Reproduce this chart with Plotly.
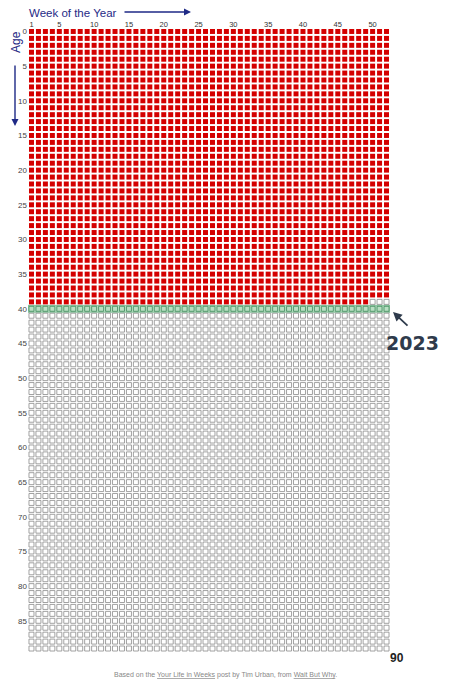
import plotly.graph_objects as go

weeks = list(range(1, 53))
ages = list(range(0, 90))
full_years_lived = 39          # ages 0..38 fully lived
partial_age = 39
partial_weeks_lived = 49       # weeks lived in age 39
current_age_row = 40           # highlighted 2023 row
x_ticks = [1, 5, 10, 15, 20, 25, 30, 35, 40, 45, 50]
y_ticks = [0, 5, 10, 15, 20, 25, 30, 35, 40, 45, 50, 55, 60, 65, 70, 75, 80, 85]

rx, ry, ex, ey, gx, gy = [], [], [], [], [], []
for a in ages:
    for w in weeks:
        if a < full_years_lived or (a == partial_age and w <= partial_weeks_lived):
            rx.append(w); ry.append(a)
        elif a == current_age_row:
            gx.append(w); gy.append(a)
        else:
            ex.append(w); ey.append(a)

fig = go.Figure()
fig.add_shape(type="rect", x0=0.5, x1=52.5, y0=current_age_row - 0.5, y1=current_age_row + 0.5,
              fillcolor="#b9dfc3", line=dict(color="#6fb386", width=0.8), layer="below")
fig.add_trace(go.Scatter(x=rx, y=ry, mode="markers",
                         marker=dict(symbol="square", size=5, color="#d40000",
                                     line=dict(color="#d40000", width=0))))
fig.add_trace(go.Scatter(x=ex, y=ey, mode="markers",
                         marker=dict(symbol="square-open", size=5, color="#8a8a8a",
                                     line=dict(width=0.8))))
fig.add_trace(go.Scatter(x=gx, y=gy, mode="markers",
                         marker=dict(symbol="square-open", size=5, color="#3d8a5a",
                                     line=dict(width=0.8))))

OFF = 8  # page body margin
FW, FH = 442, 675
W0, W1, H0, H1 = 28 - OFF, 390 - OFF, 28 - OFF, 652 - OFF
def px(x): return (x - OFF - W0) / (W1 - W0)
def py(y): return (H1 - (y - OFF)) / (H1 - H0)

navy = "#1f2a86"
slate = "#2f3b4c"
P = dict(xref="paper", yref="paper")
ann = [
    dict(x=px(27), y=py(13), text="Week of the Year", showarrow=False, xanchor="left",
         yanchor="middle", font=dict(size=11.5, color=navy), **P),
    dict(x=px(191), y=py(12), ax=-68, ay=0, text="", showarrow=True, arrowhead=2,
         arrowsize=1, arrowwidth=1.4, arrowcolor=navy, **P),
    dict(x=px(16), y=py(42), text="Age", showarrow=False, textangle=-90,
         xanchor="center", yanchor="middle", font=dict(size=12, color=navy), **P),
    dict(x=px(15), y=py(126), ax=0, ay=-62, text="", showarrow=True, arrowhead=2,
         arrowsize=1, arrowwidth=1.4, arrowcolor=navy, **P),
    dict(x=px(413), y=py(343), text="<b>2023</b>", showarrow=False,
         xanchor="center", yanchor="middle",
         font=dict(size=19, color=slate, family="DejaVu Sans"), **P),
    dict(x=px(393), y=py(312), ax=16, ay=15, text="", showarrow=True, arrowhead=2,
         arrowsize=1, arrowwidth=1.8, arrowcolor=slate, **P),
    dict(x=px(397), y=py(658), text="<b>90</b>", showarrow=False,
         xanchor="center", yanchor="middle", font=dict(size=12, color="#222"), **P),
    dict(x=px(225), y=py(675),
         text="Based on the <u>Your Life in Weeks</u> post by Tim Urban, from <u>Wait But Why</u>.",
         showarrow=False, xanchor="center", yanchor="middle",
         font=dict(size=7, color="#888"), **P),
]

fig.update_layout(
    width=FW, height=FH, showlegend=False,
    paper_bgcolor="white", plot_bgcolor="white",
    margin=dict(l=W0, r=FW - W1, t=H0, b=FH - H1, autoexpand=False),
    font=dict(family="Liberation Sans, Arial, sans-serif"),
    annotations=ann,
    xaxis=dict(range=[0.5, 52.5], side="top", tickvals=x_ticks, showgrid=False, automargin=False,
               zeroline=False, showline=False, ticks="", tickfont=dict(size=7.5, color="#333"),
               ticklabelstandoff=-1),
    yaxis=dict(range=[89.5, -0.5], tickvals=y_ticks, showgrid=False, zeroline=False, automargin=False,
               showline=False, ticks="", tickfont=dict(size=8, color="#444")),
)
fig.write_html("out.html")
